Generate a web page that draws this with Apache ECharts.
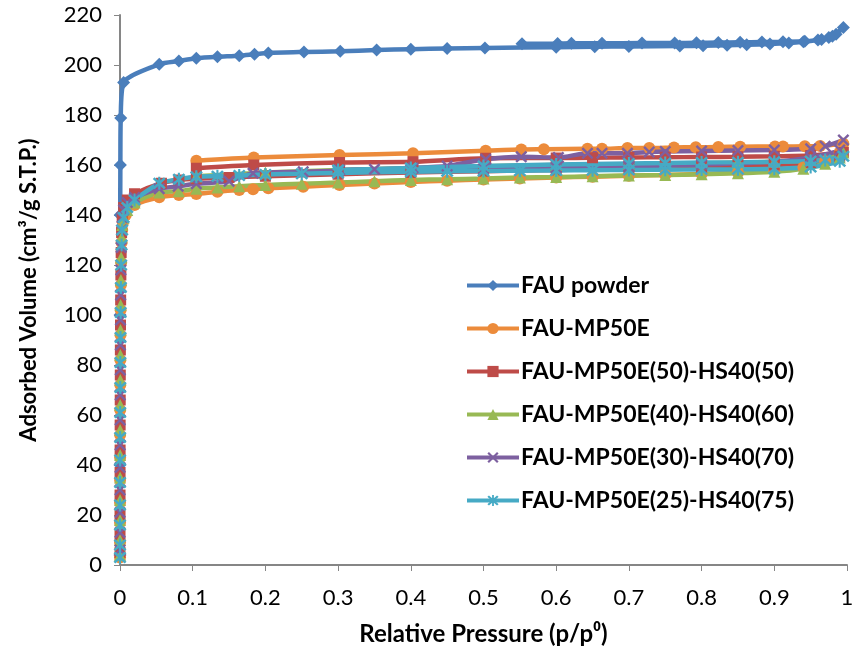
<!DOCTYPE html>
<html>
<head>
<meta charset="utf-8">
<script src="https://cdn.jsdelivr.net/npm/echarts@6/dist/echarts.min.js"></script>
<style>
html,body{margin:0;padding:0;background:#fff;}
#chart{width:857px;height:656px;}
</style>
</head>
<body>
<div id="chart"></div>
<script>
// ---- Data (p/p0, adsorbed volume), adsorption branch then desorption branch ----
const seriesNames = ['FAU powder','FAU-MP50E','FAU-MP50E(50)-HS40(50)','FAU-MP50E(40)-HS40(60)','FAU-MP50E(30)-HS40(70)','FAU-MP50E(25)-HS40(75)'];
const xTicks = [0,0.1,0.2,0.3,0.4,0.5,0.6,0.7,0.8,0.9,1];
const yTicks = [0,20,40,60,80,100,120,140,160,180,200,220];

const fauPowder = [
 [0.00001,4],[0.00003,40],[0.0001,100],[0.0003,140],[0.0005,160],[0.001,178.8],[0.005,193],
 [0.054,200.3],[0.081,201.6],[0.105,202.7],[0.134,203.3],[0.164,203.7],[0.185,204.3],[0.204,204.8],
 [0.253,205.2],[0.303,205.5],[0.353,206],[0.40,206.3],[0.45,206.6],[0.502,206.8],[0.60,207.1],
 [0.653,207.3],[0.70,207.4],[0.77,207.6],[0.802,207.7],[0.835,207.9],[0.862,208.1],[0.894,208.4],
 [0.92,208.8],[0.94,209.3],[0.96,210],[0.975,211],[0.985,212.3],[0.995,215],
 [0.98,211.5],[0.965,210.2],[0.942,209.5],[0.912,209.3],[0.883,209.2],[0.853,209.1],[0.823,209],
 [0.793,208.9],[0.763,208.8],[0.718,208.8],[0.663,208.7],[0.621,208.7],[0.602,208.6],[0.553,208.5]
];
const fauMP50E = [
 [0.00001,3],[0.00002,9],[0.00004,17],[0.00006,25],[0.0001,34],[0.00015,43],[0.0002,52],[0.0003,62],
 [0.0004,72],[0.0005,82],[0.0007,92],[0.0009,102],[0.0012,112],[0.0016,121],[0.0022,129],[0.003,134],
 [0.004,137],[0.008,140],[0.02,144],[0.054,147.1],[0.081,148],[0.105,148.4],[0.134,149.3],[0.164,150],
 [0.183,150.3],[0.204,150.7],[0.252,151.3],[0.302,152],[0.35,152.6],[0.40,153.2],[0.45,153.7],[0.50,154.2],
 [0.55,154.6],[0.60,155],[0.65,155.3],[0.70,155.7],[0.75,156],[0.80,156.4],[0.85,157],[0.90,157.8],
 [0.94,159],[0.97,161.5],[0.99,165],[0.995,168.5],
 [0.963,167.6],[0.942,167.5],[0.912,167.4],[0.901,167.4],[0.853,167.3],[0.823,167.2],[0.792,167.1],
 [0.762,167],[0.728,166.8],[0.698,166.8],[0.663,166.5],[0.643,166.5],[0.583,166.3],[0.552,166.2],
 [0.503,165.7],[0.403,164.7],[0.302,164],[0.184,163],[0.105,161.7]
];
const fauHS50 = [
 [0.00001,5],[0.00002,12],[0.00004,20],[0.00006,28],[0.0001,37],[0.00015,46],[0.0002,56],[0.0003,66],
 [0.0004,76],[0.0005,86],[0.0007,96],[0.0009,106],[0.0012,116],[0.0016,125],[0.0022,133],[0.003,139],
 [0.005,143],[0.01,146],[0.02,148.5],[0.057,152.7],[0.081,154],[0.105,154.5],[0.15,155],[0.2,155.5],
 [0.3,156.3],[0.4,157],[0.5,157.5],[0.6,158],[0.7,158.5],[0.8,159],[0.9,160],[0.95,161],[0.99,163.5],
 [0.995,165],[0.95,163.8],[0.9,163.5],[0.85,163.3],[0.8,163.2],[0.75,163.1],[0.7,163],[0.65,162.9],
 [0.6,162.8],[0.503,162.7],[0.403,161.3],[0.302,161],[0.184,160],[0.105,158.7]
];
const fauHS60 = [
 [0.00001,4],[0.00002,10],[0.00004,18],[0.00006,26],[0.0001,35],[0.00015,44],[0.0002,54],[0.0003,64],
 [0.0004,74],[0.0005,84],[0.0007,94],[0.0009,104],[0.0012,114],[0.0016,123],[0.0022,131],[0.003,136],
 [0.005,139],[0.01,142],[0.02,145],[0.054,149],[0.081,149.5],[0.105,150.5],[0.134,151],[0.164,151.5],
 [0.2,152],[0.25,152.5],[0.3,153],[0.35,153.5],[0.4,154],[0.45,154.3],[0.5,154.6],[0.55,155],[0.6,155.2],
 [0.65,155.5],[0.7,155.8],[0.75,156],[0.8,156.3],[0.85,156.7],[0.9,157.3],[0.94,158.5],[0.97,160.5],
 [0.99,163],[0.995,165],[0.95,162],[0.9,161.3],[0.85,161],[0.8,160.7],[0.7,160.3],[0.6,160],[0.5,159.5],
 [0.4,158.7],[0.3,158],[0.2,157],[0.105,155.5]
];
const fauHS70 = [
 [0.00001,6],[0.00002,13],[0.00004,21],[0.00006,30],[0.0001,39],[0.00015,48],[0.0002,58],[0.0003,68],
 [0.0004,78],[0.0005,88],[0.0007,98],[0.0009,108],[0.0012,118],[0.0016,127],[0.0022,134],[0.003,139],
 [0.005,142],[0.01,145],[0.02,147],[0.054,150.5],[0.08,151.5],[0.105,152.5],[0.15,153.5],[0.183,156.7],
 [0.252,157.3],[0.3,157.6],[0.4,158],[0.5,158.5],[0.6,159],[0.7,159.5],[0.8,160.2],[0.9,161.3],[0.95,163],
 [0.99,166],[0.995,170],[0.97,167.5],[0.95,166.5],[0.9,166],[0.85,165.8],[0.8,165.6],[0.75,165.4],
 [0.728,165.2],[0.698,164.7],[0.663,164.7],[0.643,164.7],[0.603,163],[0.552,163.3],[0.503,162.3],
 [0.45,159.6],[0.403,158.8],[0.35,158.3],[0.302,158]
];
const fauHS75 = [
 [0.00001,3],[0.00002,8],[0.00004,16],[0.00006,24],[0.0001,33],[0.00015,42],[0.0002,51],[0.0003,61],
 [0.0004,71],[0.0005,81],[0.0007,91],[0.0009,101],[0.0012,111],[0.0016,120],[0.0022,128],[0.003,134],
 [0.005,139],[0.01,143],[0.02,146],[0.054,152.7],[0.081,154.3],[0.105,155.3],[0.134,155.5],[0.164,155.8],
 [0.2,156.2],[0.25,156.5],[0.3,156.8],[0.4,157.3],[0.45,157.5],[0.5,157.6],[0.55,157.7],[0.6,157.8],
 [0.65,157.9],[0.7,158],[0.75,158.1],[0.8,158.2],[0.85,158.3],[0.9,158.5],[0.95,159.2],[0.99,161.5],
 [0.995,163.5],[0.97,162],[0.95,161.6],[0.9,161.3],[0.85,161.1],[0.8,161],[0.75,160.8],[0.7,160.6],
 [0.6,160.2],[0.5,159.6],[0.4,158.8],[0.3,158]
];

const seriesData = [fauPowder,fauMP50E,fauHS50,fauHS60,fauHS70,fauHS75];
const colors = ['#4A7EBB','#EC8B3B','#BE4B48','#98B954','#7D60A0','#46AAC5'];
const xPath = 'path://M0,1.4L1.4,0L5,3.6L8.6,0L10,1.4L6.4,5L10,8.6L8.6,10L5,6.4L1.4,10L0,8.6L3.6,5Z';
const starPath = 'path://M0,1.4L1.4,0L5,3.6L8.6,0L10,1.4L6.4,5L10,8.6L8.6,10L5,6.4L1.4,10L0,8.6L3.6,5Z M4.2,-0.5L5.8,-0.5L5.8,10.5L4.2,10.5Z';
const symbols = ['diamond','circle','rect','triangle',xPath,starPath];
const symbolSizes = [13,12,11,12,12,13];

const FONT = 'Lato, "Liberation Sans", sans-serif';
const chart = echarts.init(document.getElementById('chart'), null, {renderer:'canvas'});
chart.setOption({
  animation:false,
  backgroundColor:'#ffffff',
  color: colors,
  grid:{left:120, right:10, top:15, bottom:91, containLabel:false},
  legend:{
    orient:'vertical', left:460, top:269, itemWidth:52, itemHeight:14, itemGap:20,
    lineStyle:{width:4},
    textStyle:{fontFamily:FONT, fontWeight:'bold', fontSize:23, color:'#000', lineHeight:23, padding:[0,0,0,-3]},
    data: seriesNames
  },
  xAxis:{
    type:'value', min:0, max:1, interval:0.1,
    name:'Relative Pressure (p/p⁰)', nameLocation:'middle', nameGap:57,
    nameTextStyle:{fontFamily:FONT, fontWeight:'bold', fontSize:24, color:'#000'},
    axisLine:{show:true, onZero:false, lineStyle:{color:'#868686', width:2}},
    axisTick:{show:true, length:6, inside:false, lineStyle:{color:'#868686', width:1}},
    axisLabel:{fontFamily:FONT, fontSize:22, color:'#000', margin:22,
      formatter:function(v){ var t = xTicks.find(function(a){return Math.abs(a-v)<1e-9;}); return t===undefined?'':String(t); }},
    splitLine:{show:false}
  },
  yAxis:{
    type:'value', min:0, max:220, interval:20,
    name:'Adsorbed Volume (cm³/g S.T.P.)', nameLocation:'middle', nameGap:80,
    nameTextStyle:{fontFamily:FONT, fontWeight:'bold', fontSize:22, color:'#000'},
    axisLine:{show:true, lineStyle:{color:'#868686', width:2}},
    axisTick:{show:true, length:6, lineStyle:{color:'#868686', width:1}},
    axisLabel:{fontFamily:FONT, fontSize:22, color:'#000', margin:18,
      formatter:function(v){ return yTicks.indexOf(v)>=0 ? String(v) : ''; }},
    splitLine:{show:false}
  },
  series: seriesNames.map(function(n,i){
    return {
      name:n, type:'line', data: seriesData[i],
      smooth:0.25, symbol:symbols[i], symbolSize:symbolSizes[i], showSymbol:true,
      lineStyle:{width:4.5, color:colors[i]},
      itemStyle:{color:colors[i]},
      clip:true
    };
  })
});
</script>
</body>
</html>
